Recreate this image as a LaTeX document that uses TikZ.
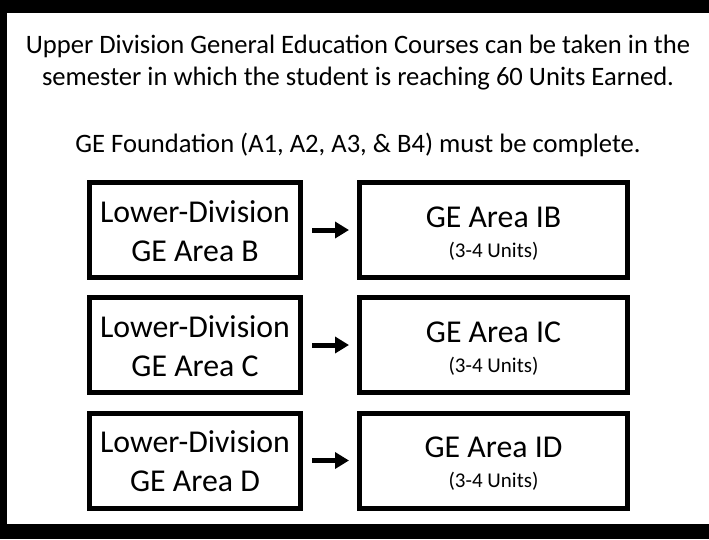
\documentclass[tikz,border=0pt]{standalone}
\usepackage{fontspec}
\setmainfont{Carlito}
\usetikzlibrary{arrows.meta}
\tikzset{
  box/.style={draw=black, line width=5pt, fill=white, inner sep=0pt, minimum height=95pt},
  lbox/.style={box, minimum width=211pt},
  rbox/.style={box, minimum width=268pt},
  big/.style={anchor=base, inner sep=0pt, font=\fontsize{31.8}{38}\selectfont},
  small/.style={anchor=base, inner sep=0pt, font=\fontsize{21}{25}\selectfont},
  head/.style={anchor=base, inner sep=0pt, font=\fontsize{26.6}{32}\selectfont},
  arr/.style={line width=5pt, -{Triangle[length=14pt,width=16pt]}}
}
\begin{document}
\begin{tikzpicture}[x=1pt,y=-1pt]
\fill[black] (0,0) rectangle (709,539);
\fill[white] (7,13) rectangle (709,524);
\useasboundingbox (0,0) rectangle (709,539);

\node[head] (t1) at (358,53) {Upper Division General Education Courses can be taken in the};
\node[head] (t2) at (358,85) {semester in which the student is reaching 60 Units Earned.};
\node[head] (t3) at (358,152) {GE Foundation (A1, A2, A3, \& B4) must be complete.};

% row B
\node[lbox] (lb) at (195,230) {};
\node[rbox] (rb) at (493.5,230) {};
\node[big] (lb1) at (195,222) {Lower-Division};
\node[big] (lb2) at (195,261) {GE Area B};
\node[big] (rb1) at (493.5,227) {GE Area IB};
\node[small] (rb2) at (493.5,257) {(3-4 Units)};
\draw[arr] ([xshift=9pt]lb.east) -- ([xshift=-8pt]rb.west);

% row C
\node[lbox] (lc) at (195,345) {};
\node[rbox] (rc) at (493.5,345) {};
\node[big] (lc1) at (195,337) {Lower-Division};
\node[big] (lc2) at (195,376) {GE Area C};
\node[big] (rc1) at (493.5,342) {GE Area IC};
\node[small] (rc2) at (493.5,372) {(3-4 Units)};
\draw[arr] ([xshift=9pt]lc.east) -- ([xshift=-8pt]rc.west);

% row D
\node[lbox] (ld) at (195,460.5) {};
\node[rbox] (rd) at (493.5,460.5) {};
\node[big] (ld1) at (195,452.5) {Lower-Division};
\node[big] (ld2) at (195,491.5) {GE Area D};
\node[big] (rd1) at (493.5,457.5) {GE Area ID};
\node[small] (rd2) at (493.5,487.5) {(3-4 Units)};
\draw[arr] ([xshift=9pt]ld.east) -- ([xshift=-8pt]rd.west);
\end{tikzpicture}
\end{document}
